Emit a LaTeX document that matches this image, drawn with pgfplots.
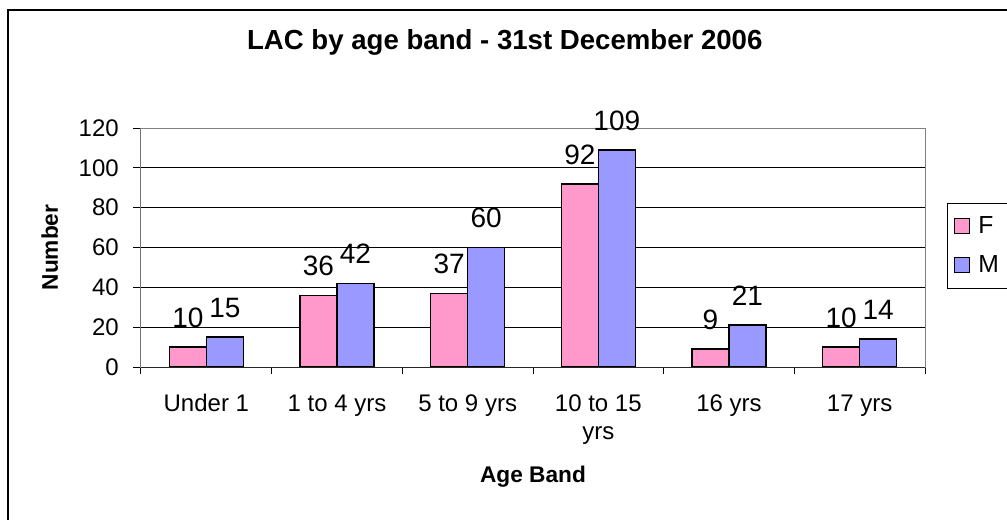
\documentclass[border=0pt]{standalone}
\usepackage{pgfplots}
\pgfplotsset{compat=1.18}
\usepackage{fontspec}
\setmainfont{Liberation Sans}
\definecolor{fpink}{HTML}{FF99CC}
\definecolor{mblue}{HTML}{9999FF}
\begin{document}
\begin{tikzpicture}
\useasboundingbox (0pt,0pt) rectangle (755.25pt,389.25pt);
\fill[white] (0pt,0pt) rectangle (755.25pt,389.25pt);
\draw[line width=1.6pt] (6pt,381.75pt) rectangle (790pt,-30pt);
\begin{axis}[
  at={(105.75pt,114pt)}, anchor=south west,
  scale only axis, width=588pt, height=179.25pt,
  ybar=0pt, bar width=27.75pt,
  xmin=-0.5, xmax=5.5, ymin=0, ymax=120,
  xtick={0,...,5},
  xticklabels={\strut Under 1, \strut 1 to 4 yrs, \strut 5 to 9 yrs, {\strut 10 to 15\\yrs}, \strut 16 yrs, \strut 17 yrs},
  minor xtick={-0.5,0.5,...,5.5},
  major x tick style={draw=none},
  ytick={0,20,...,120},
  ymajorgrids, grid style={black, line width=0.75pt},
  tick align=outside, tick pos=left,
  major tick length=6pt, minor tick length=5.25pt,
  axis line style={draw=gray, line width=0.75pt},
  tick style={black, line width=0.75pt},
  /pgf/number format/assume math mode=true,
  ticklabel style={font=\fontsize{18}{21}\selectfont},
  xticklabel style={anchor=north, inner sep=0pt, align=center, yshift=-12.3pt},
  yticklabel style={anchor=east, inner sep=0pt, xshift=-10.5pt},
  nodes near coords,
  every node near coord/.append style={font=\fontsize{21}{24}\selectfont, anchor=south, inner sep=0pt, yshift=14pt, black},
  title={LAC by age band - 31st December 2006},
  title style={at={(axis description cs:0.464,1.293)}, anchor=base, font=\bfseries\fontsize{20.7}{24}\selectfont},
  xlabel={Age Band},
  xlabel style={at={(axis description cs:0.5,-0.485)}, anchor=base, font=\bfseries\fontsize{17}{20}\selectfont},
  ylabel={Number},
  ylabel style={at={(axis description cs:-0.106,0.5)}, anchor=base, font=\bfseries\fontsize{17}{20}\selectfont},
  legend style={at={(axis description cs:1.028,0.686)}, anchor=north west, draw=black, line width=0.75pt,
    font=\fontsize{18.5}{21}\selectfont, row sep=11pt, column sep=4pt, inner xsep=5pt, inner ysep=8pt},
  legend cell align=left,
  legend image code/.code={\draw[#1, draw=black, line width=0.9pt] (0pt,-5.6pt) rectangle (11.25pt,5.6pt);},
]
\addplot[fill=fpink, draw=black, line width=1.1pt] coordinates {(0,10) (1,36) (2,37) (3,92) (4,9) (5,10)};
\addplot[fill=mblue, draw=black, line width=1.1pt] coordinates {(0,15) (1,42) (2,60) (3,109) (4,21) (5,14)};
\legend{F, M}
\draw[black!85, line width=0.75pt] (rel axis cs:0,0) -- (rel axis cs:0,1);
\draw[black!85, line width=0.75pt] (rel axis cs:0,0) -- (rel axis cs:1,0);
\end{axis}
\end{tikzpicture}
\end{document}
